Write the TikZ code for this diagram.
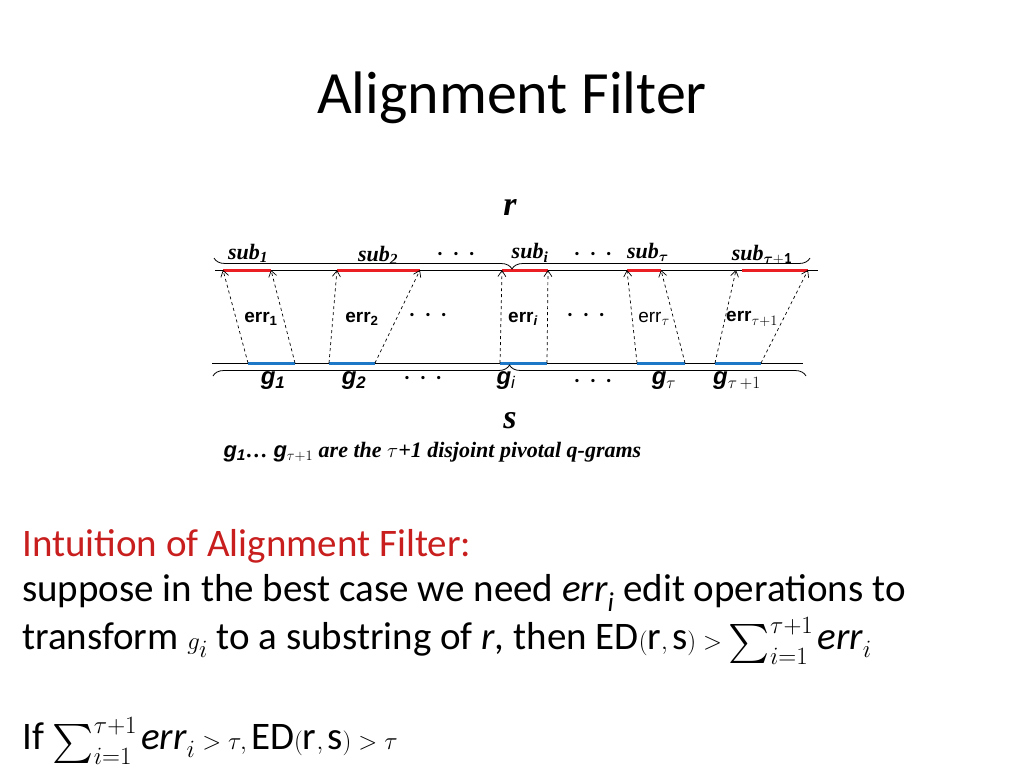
\documentclass[tikz,border=0pt]{standalone}
\usepackage{amsmath,amssymb}
\usepackage{fontspec}
\setmainfont{Carlito}
\newfontfamily\tnr{Liberation Serif}
\newfontfamily\ari{Liberation Sans}
\usetikzlibrary{decorations.pathreplacing,arrows.meta}
\definecolor{redsub}{RGB}{235,30,35}
\definecolor{bluseg}{RGB}{30,120,200}
\definecolor{headred}{RGB}{200,30,30}
\begin{document}
\begin{tikzpicture}[x=1pt,y=-1pt,
  seg/.style={line width=3pt},
  arr/.style={dashed,-{Straight Barb[length=6pt,width=8pt]},line width=0.7pt},
  sublab/.style={font=\tnr\bfseries\itshape\fontsize{22}{24}\selectfont},
  glab/.style={font=\ari\bfseries\itshape\fontsize{24}{26}\selectfont},
  errlab/.style={font=\ari\bfseries\fontsize{19}{20}\selectfont},
  dots/.style={font=\bfseries\fontsize{22}{22}\selectfont},
  body/.style={anchor=west,font=\fontsize{39}{40}\selectfont,inner sep=0}]
\useasboundingbox (0,0) rectangle (1024,768);
\node (title) at (512,98) {\fontsize{60}{64}\selectfont Alignment Filter};
% lines
\draw[line width=0.6pt] (215,270) -- (818,270);
\draw[line width=0.6pt] (212,363) -- (803,363);
% red
\foreach \a/\b/\n in {223/271/1,337/420/2,502/548/3,627/661/4,742/808/5}{
  \coordinate (r\n a) at (\a,270); \coordinate (r\n b) at (\b,270);
  \draw[redsub,seg] (r\n a) -- (r\n b);}
\foreach \a/\b/\n in {248/295/1,329/375/2,500/547/3,637/685/4,715/761/5}{
  \coordinate (b\n a) at (\a,363); \coordinate (b\n b) at (\b,363);
  \draw[bluseg,seg] (b\n a) -- (b\n b);}
\coordinate (t5a) at (736,270);
\foreach \n in {1,2,3,4}{\draw[arr] (b\n a) -- (r\n a); \draw[arr] (b\n b) -- (r\n b);}
\draw[arr] (b5a) -- (t5a); \draw[arr] (b5b) -- (r5b);
% braces
\draw[decorate,decoration={brace,amplitude=11pt,mirror},line width=0.8pt] (214,258) -- (810,258);
\draw[decorate,decoration={brace,amplitude=11pt},line width=0.8pt] (213,376) -- (806,376);
\node[font=\tnr\bfseries\itshape\fontsize{34}{34}\selectfont] (r) at (510,207) {r};
\node[font=\tnr\bfseries\itshape\fontsize{34}{34}\selectfont] (s) at (510,421) {s};
% sub labels
\node[sublab] (s1) at (248,253) {sub\textsubscript{1}};
\node[sublab] (s2) at (378,255) {sub\textsubscript{2}};
\node[sublab] (si) at (530,253) {sub\textsubscript{i}};
\node[sublab] (st) at (648,252) {sub$_{\boldsymbol\tau}$};
\node[sublab] (st1) at (762,255) {sub$_{\boldsymbol{\tau}\mathbf{+1}}$};
\node[dots] at (456,254) {.\ \ .\ \ .};
\node[dots] at (593,254) {.\ \ .\ \ .};
% err labels
\node[errlab] (e1) at (261,319) {err\textsubscript{1}};
\node[errlab] (e2) at (362,319) {err\textsubscript{2}};
\node[errlab] (ei) at (523,319) {err\textsubscript{\itshape i}};
\node[errlab] (et) at (654,319) {\mdseries err$_{\tau}$};
\node[errlab] (et1) at (752,319) {err$_{\tau+1}$};
\node[dots] at (428,315) {.\ \ .\ \ .};
\node[dots] at (586,315) {.\ \ .\ \ .};
% g labels
\node[glab] (g1) at (273,381) {g\textsubscript{1}};
\node[glab] (g2) at (354,381) {g\textsubscript{2}};
\node[glab] (gi) at (506,381) {g\textsubscript{\mdseries\itshape i}};
\node[glab] (gt) at (664,381) {g$_\tau$};
\node[glab] (gt1) at (737,381) {g$_{\tau\,+1}$};
\node[dots] at (423,378) {.\ \ .\ \ .};
\node[dots] at (593,381) {.\ \ .\ \ .};
\node[anchor=west,font=\tnr\bfseries\itshape\fontsize{22}{24}\selectfont] (cap) at (220,452)
  {{\ari g\textsubscript{1}}\dots\ {\ari g}$_{\tau+1}$ are the $\tau$+1 disjoint pivotal q-grams};
% body
\node[body,text=headred] (l1) at (22,546) {Intuition of Alignment Filter:};
\node[body] (l2) at (22,593) {suppose in the best case we need \textit{err\textsubscript{i}} edit operations to};
\node[body] (l3) at (22,641) {transform $g_i$ to a substring of \textit{r}, then $\mathrm{ED(r,s)}>\sum_{i=1}^{\tau+1} \mathit{err}_i$};
\node[body] (l4) at (22,741) {If $\sum_{i=1}^{\tau+1}\mathit{err}_i>\tau,\mathrm{ED(r,s)}>\tau$};
\end{tikzpicture}
\end{document}
